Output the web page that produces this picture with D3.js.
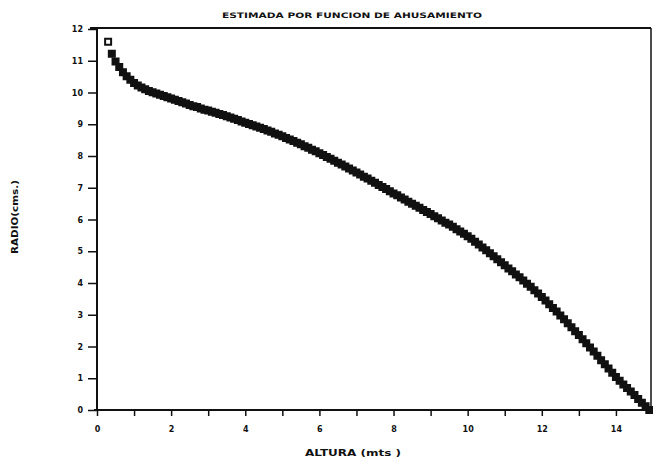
<!DOCTYPE html>
<html><head><meta charset="utf-8">
<script src="https://cdn.jsdelivr.net/npm/d3@7"></script>
<style>
html,body{margin:0;padding:0;background:#fff;}
svg{display:block;}
text{font-family:"DejaVu Sans",sans-serif;font-weight:bold;fill:#111;}
</style></head><body>
<svg id="c" width="653" height="461"></svg>
<script>
const title = "ESTIMADA POR FUNCION DE AHUSAMIENTO";
const xTitle = "ALTURA (mts )";
const yTitle = "RADIO(cms.)";
const xTickLabels = [0, 2, 4, 6, 8, 10, 12, 14];
const xMinorTicks = [1, 3, 5, 7, 9, 11, 13];
const yTickLabels = [0,1,2,3,4,5,6,7,8,9,10,11,12];

const altura = [0.3,0.4,0.5,0.6,0.7,0.8,0.9,1.0,1.1,1.2,1.3,1.4,1.5,1.6,1.7,1.8,1.9,2.0,2.1,2.2,2.3,2.4,2.5,2.6,2.7,2.8,2.9,3.0,3.1,3.2,3.3,3.4,3.5,3.6,3.7,3.8,3.9,4.0,4.1,4.2,4.3,4.4,4.5,4.6,4.7,4.8,4.9,5.0,5.1,5.2,5.3,5.4,5.5,5.6,5.7,5.8,5.9,6.0,6.1,6.2,6.3,6.4,6.5,6.6,6.7,6.8,6.9,7.0,7.1,7.2,7.3,7.4,7.5,7.6,7.7,7.8,7.9,8.0,8.1,8.2,8.3,8.4,8.5,8.6,8.7,8.8,8.9,9.0,9.1,9.2,9.3,9.4,9.5,9.6,9.7,9.8,9.9,10.0,10.1,10.2,10.3,10.4,10.5,10.6,10.7,10.8,10.9,11.0,11.1,11.2,11.3,11.4,11.5,11.6,11.7,11.8,11.9,12.0,12.1,12.2,12.3,12.4,12.5,12.6,12.7,12.8,12.9,13.0,13.1,13.2,13.3,13.4,13.5,13.6,13.7,13.8,13.9,14.0,14.1,14.2,14.3,14.4,14.5,14.6,14.7,14.8,14.9];
const radio = [11.60,11.22,10.98,10.80,10.64,10.51,10.40,10.30,10.22,10.16,10.10,10.05,10.01,9.97,9.93,9.89,9.85,9.81,9.77,9.73,9.69,9.65,9.61,9.57,9.54,9.50,9.46,9.43,9.39,9.36,9.32,9.29,9.25,9.21,9.17,9.13,9.09,9.05,9.01,8.97,8.93,8.89,8.85,8.80,8.76,8.71,8.67,8.62,8.57,8.52,8.47,8.42,8.37,8.31,8.26,8.20,8.15,8.09,8.03,7.97,7.91,7.85,7.79,7.73,7.67,7.61,7.54,7.48,7.42,7.35,7.29,7.22,7.16,7.09,7.02,6.96,6.89,6.82,6.76,6.69,6.63,6.56,6.50,6.43,6.37,6.30,6.24,6.17,6.10,6.04,5.97,5.90,5.84,5.77,5.69,5.62,5.55,5.47,5.39,5.30,5.21,5.12,5.03,4.94,4.84,4.75,4.65,4.56,4.46,4.37,4.27,4.18,4.08,3.98,3.88,3.77,3.67,3.56,3.45,3.33,3.21,3.10,2.98,2.86,2.73,2.61,2.48,2.36,2.23,2.10,1.97,1.84,1.71,1.57,1.44,1.31,1.17,1.04,0.92,0.80,0.69,0.58,0.47,0.35,0.23,0.12,0.00];

const svg = d3.select("#c");
const x = d3.scaleLinear().domain([0, 15]).range([97, 653]);
const y = d3.scaleLinear().domain([0, 12]).range([410, 29]);
const ink = "#111";

// frame (top and right)
svg.append("line").attr("x1", 90).attr("x2", 651).attr("y1", 28).attr("y2", 28)
  .attr("stroke", ink).attr("stroke-width", 2);
svg.append("line").attr("x1", 651).attr("x2", 651).attr("y1", 28).attr("y2", 410)
  .attr("stroke", ink).attr("stroke-width", 1.5);

// y axis
const yAxis = d3.axisLeft(y).tickValues(yTickLabels).tickSize(9).tickPadding(5).tickFormat(d3.format("d"));
const gy = svg.append("g").attr("transform", `translate(${x(0)},0)`).call(yAxis);
gy.select(".domain").attr("stroke", ink).attr("stroke-width", 2).attr("d", `M0,${y(12)-1}V${y(0)}`);
gy.selectAll(".tick line").attr("stroke", ink).attr("stroke-width", 1.5);
gy.selectAll(".tick text").attr("font-size", 8).attr("font-family", "DejaVu Sans").attr("font-weight", "bold").attr("fill", ink);

// x axis
const xAxis = d3.axisBottom(x).tickValues(xTickLabels).tickSize(6).tickPadding(10).tickFormat(d3.format("d"));
const gx = svg.append("g").attr("transform", `translate(0,${y(0)})`).call(xAxis);
gx.select(".domain").attr("stroke", ink).attr("stroke-width", 2).attr("d", `M${x(0)-3},0H653`);
gx.selectAll(".tick line").attr("stroke", ink).attr("stroke-width", 1.5);
gx.selectAll(".tick text").attr("font-size", 8).attr("font-family", "DejaVu Sans").attr("font-weight", "bold").attr("fill", ink);
const gxm = svg.append("g").attr("transform", `translate(0,${y(0)})`)
  .call(d3.axisBottom(x).tickValues(xMinorTicks).tickSize(6).tickFormat(""));
gxm.select(".domain").remove();
gxm.selectAll(".tick line").attr("stroke", ink).attr("stroke-width", 1.5);

// title & axis titles
svg.append("text").attr("x", 352).attr("y", 18).attr("text-anchor", "middle")
  .attr("font-size", 7.5).attr("textLength", 260).attr("lengthAdjust", "spacingAndGlyphs").text(title);
svg.append("text").attr("x", 353).attr("y", 456).attr("text-anchor", "middle")
  .attr("font-size", 8).attr("textLength", 96).attr("lengthAdjust", "spacingAndGlyphs").text(xTitle);
svg.append("text").attr("transform", "translate(18,217) rotate(-90)").attr("text-anchor", "middle")
  .attr("font-size", 8).attr("textLength", 74).attr("lengthAdjust", "spacingAndGlyphs").text(yTitle);

// markers
const pts = altura.map((h, i) => [h, radio[i]]);
const sym = d3.symbol().type(d3.symbolSquare).size(36);
svg.append("g").selectAll("path").data(pts).join("path")
  .attr("transform", d => `translate(${x(d[0])},${y(d[1])})`)
  .attr("d", sym)
  .attr("fill", (d, i) => i === 0 ? "#fff" : ink)
  .attr("stroke", ink).attr("stroke-width", 2);
</script>
</body></html>
